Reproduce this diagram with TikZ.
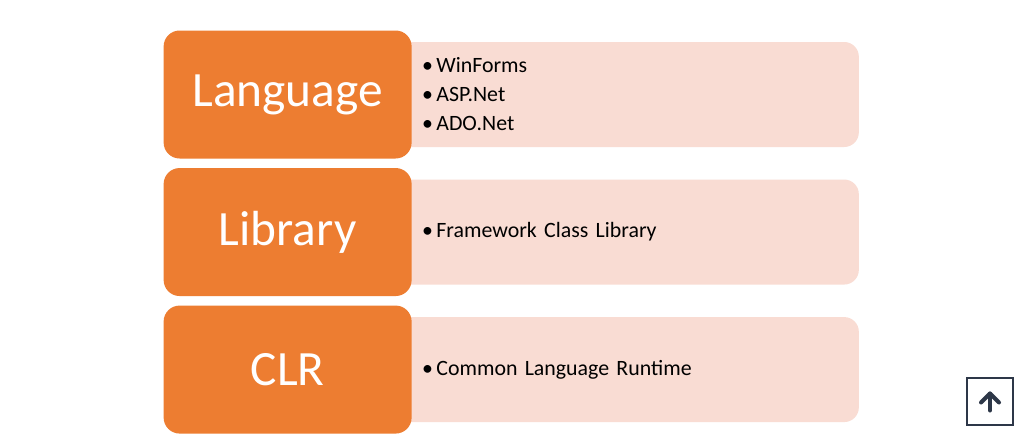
\documentclass[tikz,border=0pt]{standalone}
\usepackage{fontspec}
\setmainfont{Carlito}
\usepackage{xcolor}
\usetikzlibrary{arrows.meta,positioning}

\definecolor{catorange}{HTML}{ED7D31}
\definecolor{itempink}{HTML}{F9DCD3}
\definecolor{btnnavy}{HTML}{2D3748}
\newcommand{\bul}{\textbullet\hspace{2.5pt}}

\begin{document}
\begin{tikzpicture}[
  x=0.75pt, y=-0.75pt,
  every node/.style={inner sep=2pt},
  items/.style={fill=itempink, rounded corners=11pt, align=left, text width=296pt,
    inner xsep=31.5pt, minimum height=78.75pt, font=\fontsize{16.4}{21.75}\selectfont},
  cat/.style={fill=catorange, rounded corners=12pt, text=white, minimum width=186pt,
    minimum height=96pt, font=\fontsize{37}{40}\selectfont},
  topbtn/.style={draw=btnnavy, line width=1.5pt, minimum size=35pt, inner sep=0pt},
  node distance=24pt
]
\fill[white] (0,0) rectangle (1024,446);
\useasboundingbox (0,0) rectangle (1024,446);

% Pink item boxes first, so the orange ones sit over their left ends
\node[items] (langitems) at (619.5,94.5) {\bul WinForms\\ \bul ASP.Net\\ \bul ADO.Net};
\node[items, below=of langitems] (libitems) {\bul Framework Class Library};
\node[items, below=of libitems] (clritems) {\bul Common Language Runtime};

% Orange category boxes, overlapping the pink ones
\node[cat, left=-24pt of langitems] (lang) {Language};
\node[cat, left=-24pt of libitems]  (lib)  {Library};
\node[cat, left=-24pt of clritems]  (clr)  {CLR};

% Back-to-top button
\node[topbtn] (totop) at (990,401.5) {};
\draw[btnnavy, line width=3pt, line cap=round, line join=round]
  ([shift={(0,9)}]totop.center) -- ([shift={(0,-8)}]totop.center);
\draw[btnnavy, line width=3pt, line cap=round, line join=round]
  ([shift={(-9,1)}]totop.center) -- ([shift={(0,-8)}]totop.center) -- ([shift={(9,1)}]totop.center);

\end{tikzpicture}
\end{document}
